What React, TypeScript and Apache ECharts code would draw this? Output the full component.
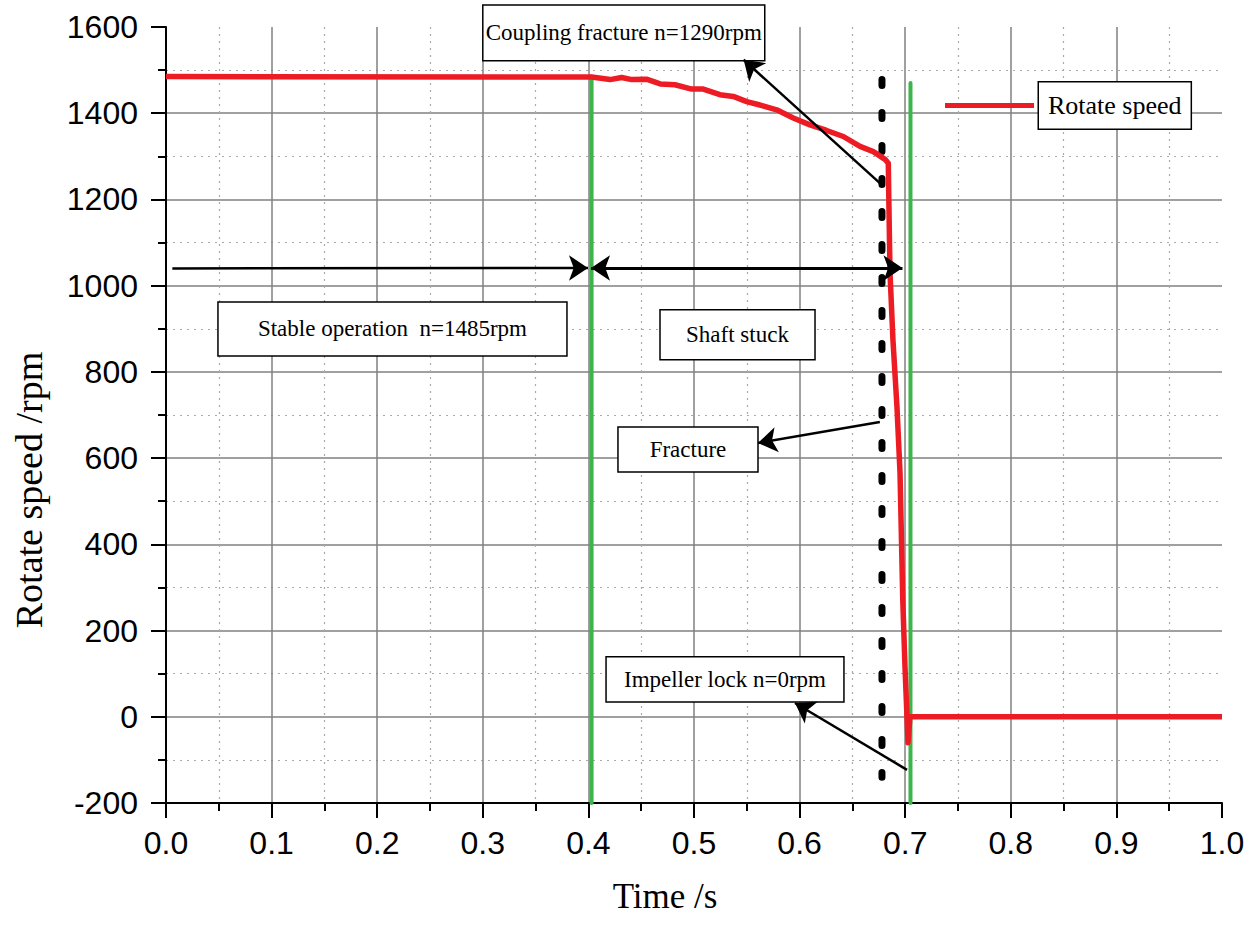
import React, { useEffect, useRef } from "react";
import * as echarts from "echarts";

// Rotate speed curve (time in s, speed in rpm)
const timeS = [
  0, 0.403, 0.4205, 0.4315, 0.441, 0.455, 0.468, 0.482, 0.4978, 0.5088, 0.5246, 0.5372, 0.5499,
  0.5625, 0.5783, 0.594, 0.6098, 0.6256, 0.6414, 0.6572, 0.6698, 0.6809, 0.684, 0.6845, 0.6856,
  0.6884, 0.6922, 0.6951, 0.6977, 0.6998, 0.7017, 0.7027, 0.7045, 1.0,
];
const speedRpm = [
  1485, 1484, 1478, 1483, 1478, 1479, 1468, 1466, 1456, 1456, 1443, 1439, 1427,
  1419, 1408, 1389, 1373, 1360, 1346, 1323, 1311, 1293, 1284, 1199, 1030,
  874, 719, 566, 271, 116, 0, -60, 0, 0,
];
const seriesName = "Rotate speed";

// Stage boundary markers (green)
const stageTimes = [0.403, 0.705];
const stageTops = [1485, 1470];
const stageBottom = -200;

// Fracture instant (black dotted)
const fractureTime = 0.678;
const fractureSpan = [1478, -140];

// Single-headed arrows: [time, speed] start -> end (arrow at end)
const arrowStarts = [
  [0.006, 1040],
  [0.676, 1238],
  [0.676, 684],
  [0.7017, -123],
];
const arrowEnds = [
  [0.3996, 1041],
  [0.547, 1524],
  [0.5606, 635],
  [0.5956, 32],
];
// Double-headed arrow
const doubleArrowStart = [0.4025, 1041];
const doubleArrowEnd = [0.6974, 1041];

// Annotation boxes
const boxLabels = [
  "Coupling fracture n=1290rpm",
  "Stable operation  n=1485rpm",
  "Shaft stuck",
  "Fracture",
  "Impeller lock n=0rpm",
];
const boxTime0 = [0.3, 0.0492, 0.4678, 0.428, 0.4167];
const boxTime1 = [0.567, 0.3797, 0.6146, 0.5606, 0.642];
const boxSpeedTop = [1651, 962, 944, 672, 139];
const boxSpeedBottom = [1522, 837, 828, 568, 34];

const xMin = 0;
const xMax = 1;
const xStep = 0.1;
const yMin = -200;
const yMax = 1600;
const yStep = 200;

export default function App() {
  const ref = useRef<HTMLDivElement>(null);
  useEffect(() => {
    if (!ref.current) return;
    const chart = echarts.init(ref.current, undefined, { renderer: "svg" });
    const axisColor = "#000";
    const tickFont = { fontFamily: "Liberation Sans", fontSize: 32, color: "#000" };
    const serif = "Liberation Serif";

    const greenSeries = stageTimes.map((t, i) => ({
      type: "line",
      silent: true,
      symbol: "none",
      z: 3,
      data: [
        [t, stageTops[i]],
        [t, stageBottom],
      ],
      lineStyle: { color: "#3DB54A", width: 4, cap: "round" },
    }));

    chart.setOption({
      animation: false,
      backgroundColor: "#fff",
      grid: { left: 166, right: 28, top: 27, bottom: 122, containLabel: false },
      legend: {
        data: [seriesName],
        left: 945,
        top: 81,
        padding: 0,
        itemWidth: 89,
        itemHeight: 5,
        icon: "rect",
        selectedMode: false,
        textStyle: {
          fontFamily: serif,
          fontSize: 26,
          lineHeight: 26,
          color: "#000",
          backgroundColor: "#fff",
          borderColor: "#000",
          borderWidth: 1.5,
          padding: [10, 9, 10, 9],
        },
      },
      xAxis: {
        type: "value",
        min: xMin,
        max: xMax,
        interval: xStep,
        name: "Time /s",
        nameLocation: "middle",
        nameGap: 76,
        nameTextStyle: { fontFamily: serif, fontSize: 35, color: "#000", padding: [0, 58, 0, 0] },
        axisLine: { show: true, onZero: false, lineStyle: { color: axisColor, width: 2 } },
        axisTick: { show: true, length: 15, lineStyle: { color: axisColor, width: 2 } },
        minorTick: { show: true, splitNumber: 2, length: 8, lineStyle: { color: axisColor, width: 2 } },
        axisLabel: { ...tickFont, margin: 24, formatter: (v: number) => v.toFixed(1) },
        splitLine: { show: true, showMinLine: false, showMaxLine: false, lineStyle: { color: "#808080", width: 1.5 } },
        minorSplitLine: { show: true, lineStyle: { color: "#aaaaaa", width: 1.2, type: [2, 5] } },
      },
      yAxis: {
        type: "value",
        min: yMin,
        max: yMax,
        interval: yStep,
        name: "Rotate speed /rpm",
        nameLocation: "middle",
        nameGap: 118,
        nameTextStyle: { fontFamily: serif, fontSize: 38, color: "#000", padding: [0, 150, 0, 0] },
        axisLine: { show: true, onZero: false, lineStyle: { color: axisColor, width: 2 } },
        axisTick: { show: true, length: 15, lineStyle: { color: axisColor, width: 2 } },
        minorTick: { show: true, splitNumber: 2, length: 8, lineStyle: { color: axisColor, width: 2 } },
        axisLabel: { ...tickFont, margin: 28, formatter: (v: number) => String(v) },
        splitLine: { show: true, showMinLine: false, showMaxLine: false, lineStyle: { color: "#808080", width: 1.5 } },
        minorSplitLine: { show: true, lineStyle: { color: "#aaaaaa", width: 1.2, type: [2, 5] } },
      },
      series: [
        ...greenSeries,
        {
          type: "line",
          silent: true,
          symbol: "none",
          z: 3,
          data: [
            [fractureTime, fractureSpan[0]],
            [fractureTime, fractureSpan[1]],
          ],
          lineStyle: { color: "#000", width: 7, type: [6, 27], cap: "round" },
        },
        {
          type: "line",
          name: seriesName,
          symbol: "none",
          showSymbol: false,
          z: 4,
          data: timeS.map((t, i) => [t, speedRpm[i]]),
          lineStyle: { color: "#ED1C24", width: 5.5, join: "round" },
          itemStyle: { color: "#ED1C24" },
        },
        {
          type: "custom",
          coordinateSystem: "cartesian2d",
          clip: false,
          silent: true,
          z: 5,
          encode: { x: [0, 2], y: [1, 3] },
          data: boxLabels.map((_, i) => [boxTime0[i], boxSpeedTop[i], boxTime1[i], boxSpeedBottom[i]]),
          renderItem: (params: any, api: any) => {
            const p0 = api.coord([api.value(0), api.value(1)]);
            const p1 = api.coord([api.value(2), api.value(3)]);
            const label = boxLabels[params.dataIndex];
            return {
              type: "group",
              children: [
                {
                  type: "rect",
                  shape: { x: p0[0], y: p0[1], width: p1[0] - p0[0], height: p1[1] - p0[1] },
                  style: { fill: "#fff", stroke: "#000", lineWidth: 1.5 },
                },
                {
                  type: "text",
                  style: {
                    text: label,
                    x: (p0[0] + p1[0]) / 2,
                    y: (p0[1] + p1[1]) / 2,
                    align: "center",
                    verticalAlign: "middle",
                    textAlign: "center",
                    textVerticalAlign: "middle",
                    font: `23px "${serif}"`,
                    fill: "#000",
                  },
                },
              ],
            };
          },
        },
        {
          type: "lines",
          coordinateSystem: "cartesian2d",
          silent: true,
          z: 6,
          symbol: ["none", "arrow"],
          symbolSize: 19,
          lineStyle: { color: "#000", width: 2.5, opacity: 1, curveness: 0 },
          data: arrowStarts.map((s, i) => ({ coords: [s, arrowEnds[i]] })),
        },
        {
          type: "lines",
          coordinateSystem: "cartesian2d",
          silent: true,
          z: 6,
          symbol: ["arrow", "arrow"],
          symbolSize: 19,
          lineStyle: { color: "#000", width: 3, opacity: 1, curveness: 0 },
          data: [{ coords: [doubleArrowStart, doubleArrowEnd] }],
        },
      ],
    });
    return () => chart.dispose();
  }, []);
  return (
    <div
      ref={ref}
      style={{ position: "absolute", left: 0, top: 0, width: 1250, height: 925, background: "#fff" }}
    />
  );
}
